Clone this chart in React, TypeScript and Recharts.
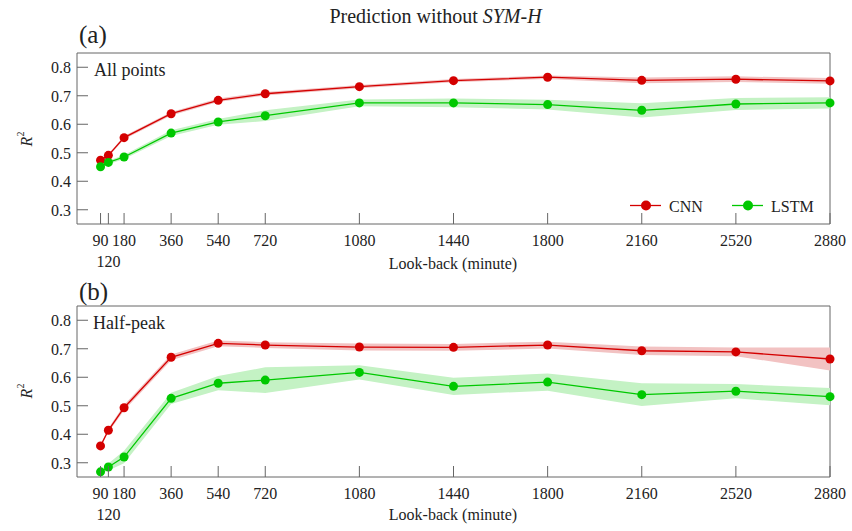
import React from "react";
import { ComposedChart, Line, Area, XAxis, YAxis, ReferenceArea, Legend } from "recharts";

const lookBack = [90, 120, 180, 360, 540, 720, 1080, 1440, 1800, 2160, 2520, 2880];
const yTicks = [0.3, 0.4, 0.5, 0.6, 0.7, 0.8];

// (a) all points
const cnnAll = [0.474, 0.491, 0.553, 0.637, 0.684, 0.707, 0.732, 0.753, 0.765, 0.754, 0.758, 0.752];
const cnnAllErr = [0.005, 0.005, 0.006, 0.006, 0.006, 0.006, 0.006, 0.006, 0.006, 0.01, 0.01, 0.01];
const lstmAll = [0.451, 0.466, 0.485, 0.569, 0.608, 0.63, 0.675, 0.675, 0.669, 0.649, 0.671, 0.675];
const lstmAllErr = [0.005, 0.006, 0.007, 0.01, 0.01, 0.019, 0.012, 0.015, 0.017, 0.025, 0.021, 0.02];

// (b) half-peak
const cnnHalf = [0.359, 0.414, 0.493, 0.67, 0.719, 0.713, 0.706, 0.705, 0.713, 0.693, 0.689, 0.664];
const cnnHalfErr = [0.005, 0.007, 0.01, 0.01, 0.01, 0.01, 0.012, 0.012, 0.012, 0.015, 0.015, 0.04];
const lstmHalf = [0.268, 0.285, 0.32, 0.526, 0.579, 0.59, 0.617, 0.568, 0.583, 0.539, 0.551, 0.532];
const lstmHalfErr = [0.006, 0.012, 0.022, 0.02, 0.025, 0.045, 0.025, 0.03, 0.03, 0.04, 0.025, 0.03];

const RED = "#d40000";
const GREEN = "#00c800";
const RED_BAND = "#f2c2c2";
const GREEN_BAND = "#c4f2c4";
const FRAME = "#666";
const FONT = '"Times New Roman", "DejaVu Serif", serif';

const txt = { fontFamily: FONT, fill: "#222" };

function buildRows(cnn: number[], cnnErr: number[], lstm: number[], lstmErr: number[]) {
  return lookBack.map((x, i) => ({
    x,
    cnn: cnn[i],
    lstm: lstm[i],
    cnnBand: [cnn[i] - cnnErr[i], cnn[i] + cnnErr[i]],
    lstmBand: [lstm[i] - lstmErr[i], lstm[i] + lstmErr[i]],
  }));
}

const XTick = (props: any) => {
  const { x, y, payload } = props;
  const second = payload.value === 120;
  return (
    <g>
      <line x1={x} y1={y} x2={x} y2={y - 11} stroke={FRAME} strokeWidth={1} />
      <text x={x} y={y + (second ? 42.5 : 21.5)} textAnchor="middle" fontSize={16} style={txt}>
        {payload.value}
      </text>
    </g>
  );
};

const YTick = (props: any) => {
  const { x, y, payload } = props;
  return (
    <g>
      <line x1={x} y1={y} x2={x + 11} y2={y} stroke={FRAME} strokeWidth={1} />
      <text x={x - 6} y={y + 6} textAnchor="end" fontSize={16} style={txt}>
        {payload.value.toFixed(1)}
      </text>
    </g>
  );
};

const LegendBox = () => (
  <svg width={210} height={26}>
    <line x1={10} y1={11.5} x2={41} y2={11.5} stroke={RED} strokeWidth={1.3} />
    <circle cx={26} cy={11.5} r={5} fill={RED} />
    <text x={49} y={17.5} fontSize={16} style={txt}>CNN</text>
    <line x1={112} y1={11.5} x2={143} y2={11.5} stroke={GREEN} strokeWidth={1.3} />
    <circle cx={128} cy={11.5} r={5} fill={GREEN} />
    <text x={151} y={17.5} fontSize={16} style={txt}>LSTM</text>
  </svg>
);

function Panel({ rows, height, margin, legend }: { rows: any[]; height: number; margin: any; legend?: boolean }) {
  return (
    <ComposedChart width={852} height={height} data={rows} margin={margin}>
      <XAxis
        type="number"
        dataKey="x"
        domain={[0, 2880]}
        ticks={lookBack}
        interval={0}
        tickSize={0}
        tickMargin={0}
        tickLine={false}
        axisLine={false}
        tick={<XTick />}
        height={30}
      />
      <YAxis
        type="number"
        domain={[0.25, 0.85]}
        ticks={yTicks}
        interval={0}
        tickSize={0}
        tickMargin={0}
        tickLine={false}
        axisLine={false}
        tick={<YTick />}
        width={60}
      />
      <ReferenceArea x1={0} x2={2880} y1={0.25} y2={0.85} fill="none" stroke={FRAME} strokeWidth={1} />
      <Area type="linear" dataKey="cnnBand" stroke="none" fill={RED_BAND} fillOpacity={1} legendType="none" isAnimationActive={false} activeDot={false} />
      <Area type="linear" dataKey="lstmBand" stroke="none" fill={GREEN_BAND} fillOpacity={1} legendType="none" isAnimationActive={false} activeDot={false} />
      <Line type="linear" dataKey="cnn" name="CNN" stroke={RED} strokeWidth={1.3} dot={{ r: 4.5, fill: RED, stroke: RED, strokeWidth: 0 }} isAnimationActive={false} />
      <Line type="linear" dataKey="lstm" name="LSTM" stroke={GREEN} strokeWidth={1.3} dot={{ r: 4.5, fill: GREEN, stroke: GREEN, strokeWidth: 0 }} isAnimationActive={false} />
      {legend && (
        <Legend
          layout="horizontal"
          verticalAlign="middle"
          align="center"
          content={<LegendBox />}
          wrapperStyle={{ left: 620, top: 194, width: 210, height: 26 }}
        />
      )}
    </ComposedChart>
  );
}

export default function App() {
  const rowsA = buildRows(cnnAll, cnnAllErr, lstmAll, lstmAllErr);
  const rowsB = buildRows(cnnHalf, cnnHalfErr, lstmHalf, lstmHalfErr);
  return (
    <div style={{ position: "absolute", left: 0, top: 0, width: 852, height: 531, background: "#fff", fontFamily: FONT }}>
      <div style={{ position: "absolute", left: 0, top: 0 }}>
        <Panel rows={rowsA} height={270} margin={{ top: 53, right: 22, left: 17, bottom: 16 }} legend />
      </div>
      <div style={{ position: "absolute", left: 0, top: 255 }}>
        <Panel rows={rowsB} height={276} margin={{ top: 51, right: 22, left: 17, bottom: 24 }} />
      </div>
      <svg width={852} height={531} style={{ position: "absolute", left: 0, top: 0, pointerEvents: "none" }}>
        <text x={435.5} y={22.5} fontSize={20} textAnchor="middle" style={txt}>
          Prediction without <tspan fontStyle="italic">SYM-H</tspan>
        </text>
        <text x={79} y={42.5} fontSize={25} style={txt}>(a)</text>
        <text x={79} y={299.5} fontSize={25} style={txt}>(b)</text>
        <text x={94} y={76} fontSize={18} style={txt}>All points</text>
        <text x={93} y={329} fontSize={18} style={txt}>Half-peak</text>
        <text x={453} y={269} fontSize={16} textAnchor="middle" style={txt}>Look-back (minute)</text>
        <text x={453} y={520} fontSize={16} textAnchor="middle" style={txt}>Look-back (minute)</text>
        <text transform="translate(32,139) rotate(-90)" fontSize={16} textAnchor="middle" style={txt}>
          <tspan fontStyle="italic">R</tspan>
          <tspan fontSize={10} dy={-8}>2</tspan>
        </text>
        <text transform="translate(32,391) rotate(-90)" fontSize={16} textAnchor="middle" style={txt}>
          <tspan fontStyle="italic">R</tspan>
          <tspan fontSize={10} dy={-8}>2</tspan>
        </text>
      </svg>
    </div>
  );
}
